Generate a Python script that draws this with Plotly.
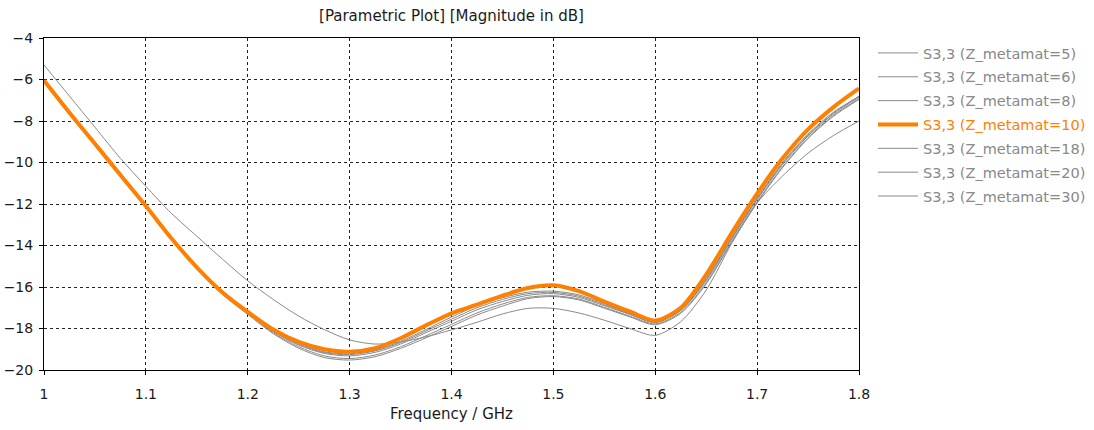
import plotly.graph_objects as go

freq = [1.000, 1.025, 1.050, 1.075, 1.100, 1.125, 1.150, 1.175, 1.200, 1.225, 1.250,
        1.275, 1.300, 1.325, 1.350, 1.375, 1.400, 1.425, 1.450, 1.475, 1.500, 1.525,
        1.550, 1.575, 1.600, 1.625, 1.650, 1.675, 1.700, 1.725, 1.750, 1.775, 1.800]

s33_z5 = [-5.30, -6.80, -8.30, -9.80, -11.15, -12.45, -13.55, -14.65, -15.70, -16.60, -17.40,
          -18.05, -18.55, -18.75, -18.65, -18.40, -18.07, -17.70, -17.30, -17.03, -17.03, -17.25,
          -17.60, -18.00, -18.33, -17.67, -16.15, -13.90, -11.95, -10.65, -9.55, -8.70, -8.00]
s33_z6 = [-6.03, -7.58, -9.08, -10.58, -12.08, -13.63, -15.03, -16.26, -17.22, -18.08, -18.72,
          -19.12, -19.22, -19.05, -18.62, -18.05, -17.45, -16.90, -16.52, -16.25, -16.20, -16.38,
          -16.80, -17.27, -17.68, -17.10, -15.65, -13.65, -11.75, -10.05, -8.68, -7.62, -6.80]
s33_z8 = [-6.08, -7.63, -9.13, -10.63, -12.13, -13.68, -15.08, -16.29, -17.25, -18.15, -18.80,
          -19.20, -19.32, -19.15, -18.75, -18.20, -17.65, -17.10, -16.70, -16.40, -16.32, -16.50,
          -16.90, -17.32, -17.72, -17.14, -15.70, -13.70, -11.80, -10.10, -8.72, -7.66, -6.85]
s33_z10 = [-6.05, -7.60, -9.10, -10.60, -12.10, -13.65, -15.05, -16.25, -17.20, -18.05, -18.65,
           -19.00, -19.12, -18.95, -18.47, -17.85, -17.27, -16.85, -16.42, -16.05, -15.92, -16.20,
           -16.70, -17.18, -17.62, -17.00, -15.40, -13.40, -11.50, -9.80, -8.40, -7.33, -6.43]
s33_z18 = [-6.10, -7.65, -9.15, -10.65, -12.15, -13.70, -15.10, -16.32, -17.28, -18.20, -18.88,
           -19.32, -19.45, -19.28, -18.88, -18.35, -17.80, -17.25, -16.82, -16.50, -16.42, -16.58,
           -16.98, -17.40, -17.78, -17.22, -15.80, -13.80, -11.90, -10.20, -8.80, -7.73, -6.92]
s33_z20 = [-6.14, -7.68, -9.18, -10.68, -12.18, -13.73, -15.13, -16.35, -17.32, -18.25, -18.95,
           -19.40, -19.52, -19.36, -18.96, -18.45, -17.90, -17.35, -16.92, -16.56, -16.46, -16.62,
           -17.02, -17.44, -17.82, -17.27, -15.85, -13.85, -11.95, -10.25, -8.84, -7.77, -6.96]
s33_z30 = [-6.06, -7.61, -9.11, -10.61, -12.11, -13.66, -15.06, -16.27, -17.24, -18.12, -18.76,
           -19.16, -19.26, -19.08, -18.68, -18.12, -17.55, -17.00, -16.60, -16.32, -16.26, -16.44,
           -16.85, -17.30, -17.70, -17.12, -15.60, -13.60, -11.70, -10.00, -8.63, -7.57, -6.82]

series = [
    ("S3,3 (Z_metamat=5)", s33_z5),
    ("S3,3 (Z_metamat=6)", s33_z6),
    ("S3,3 (Z_metamat=8)", s33_z8),
    ("S3,3 (Z_metamat=10)", s33_z10),
    ("S3,3 (Z_metamat=18)", s33_z18),
    ("S3,3 (Z_metamat=20)", s33_z20),
    ("S3,3 (Z_metamat=30)", s33_z30),
]

x_ticks = [1.0, 1.1, 1.2, 1.3, 1.4, 1.5, 1.6, 1.7, 1.8]
x_tick_labels = ["1", "1.1", "1.2", "1.3", "1.4", "1.5", "1.6", "1.7", "1.8"]
y_ticks = [-20, -18, -16, -14, -12, -10, -8, -6, -4]

ORANGE = "#FF8000"
GRAY = "#8a8a8a"
FONT = "DejaVu Sans"
TXT = "#1a1a1a"

fig = go.Figure()
order = [0, 1, 2, 4, 5, 6, 3]
for i in order:
    name, vals = series[i]
    hl = "=10" in name
    fig.add_trace(go.Scatter(
        x=freq, y=vals, mode="lines",
        line=dict(color=ORANGE if hl else GRAY, width=4 if hl else 1, shape="spline", smoothing=0.8),
        name=(f"<span style='color:{ORANGE}'>{name}</span>" if hl else name),
        legendrank=i + 1,
        legendgroup=f"g{i}",
    ))

axis_common = dict(
    showline=True, linecolor="black", linewidth=1, mirror=True,
    showgrid=True, gridcolor="#222222", gridwidth=1, griddash="3px,3px",
    ticks="outside", ticklen=4, tickcolor="black",
    tickfont=dict(family=FONT, size=14, color=TXT),
    zeroline=False, automargin=False,
)

fig.update_layout(
    width=1094, height=430,
    margin=dict(l=44, r=235, t=38, b=60, autoexpand=False),
    paper_bgcolor="white", plot_bgcolor="white",
    title=dict(text="[Parametric Plot] [Magnitude in dB]", x=(44 + 859) / 2 / 1094, xanchor="center",
               y=1 - 16 / 430, yanchor="middle", yref="container",
               font=dict(family=FONT, size=15, color=TXT)),
    xaxis=dict(range=[1.0, 1.8], tickvals=x_ticks, ticktext=x_tick_labels, ticklabelstandoff=7,
               title=dict(text="Frequency / GHz", font=dict(family=FONT, size=15, color=TXT), standoff=7),
               **axis_common),
    yaxis=dict(range=[-20, -4], tickvals=y_ticks, ticklabelstandoff=3, **axis_common),
    legend=dict(x=873 / 1094, xref="container", xanchor="left", y=1 - 37 / 430, yref="container", yanchor="top",
                font=dict(family=FONT, size=14.5, color="#888888"),
                tracegroupgap=2, itemwidth=40,
                bgcolor="rgba(0,0,0,0)"),
    showlegend=True,
)

fig.write_html("out.html")
